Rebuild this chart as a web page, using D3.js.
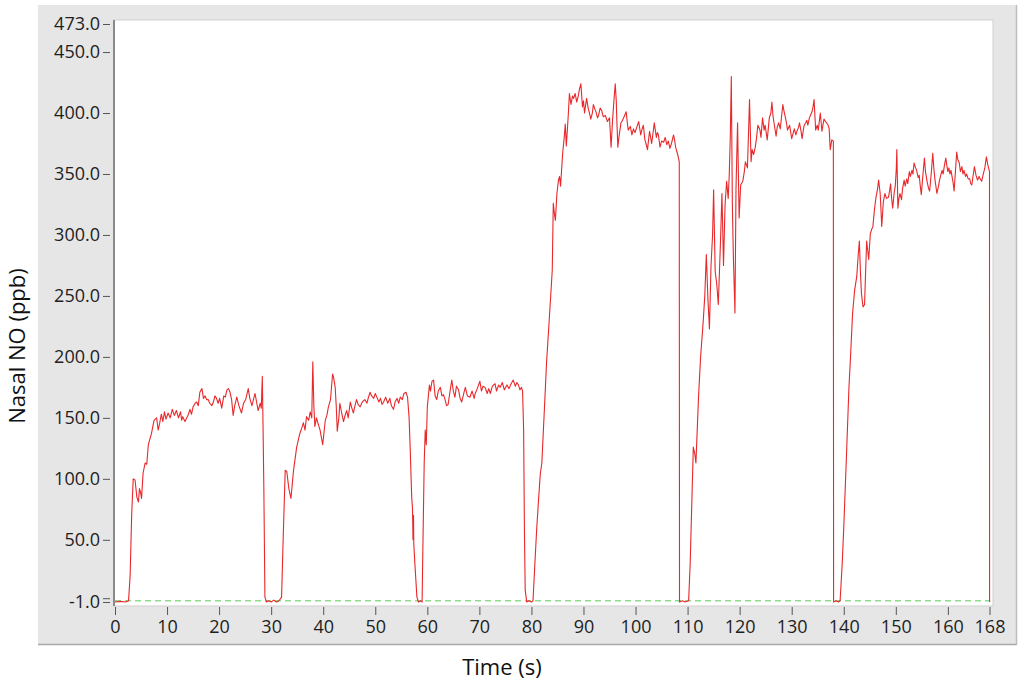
<!DOCTYPE html>
<html><head><meta charset="utf-8">
<script src="https://cdn.jsdelivr.net/npm/d3@7"></script>
<style>body{margin:0;background:#fff}svg{display:block}text{font-family:"Open Sans","Noto Sans",sans-serif}</style>
</head><body><svg id="c" width="1024" height="686"></svg>
<script>
// ---- data: [time (s), nasal NO (ppb)] ----
const phase1 = [[0,-1],[1,-0.5],[2,-1],[2.6,0],[2.9,20],[3.2,70],[3.5,100],[3.85,99],[4.2,85],[4.5,81],[4.7,92],[4.9,89],[5.1,84],[5.4,105],[5.8,113],[6.1,112],[6.4,128],[7.0,137],[7.5,148],[8.0,150],[8.3,140],[8.6,146],[8.9,153],[9.2,147],[9.5,155],[9.8,149],[10.2,154],[10.6,150],[11.0,157],[11.4,152],[11.8,156],[12.2,150],[12.6,155],[12.8,148],[13.0,151],[13.45,147],[13.8,150],[14.1,153],[14.4,157],[14.7,153],[15.0,159],[15.4,162],[15.7,163],[16.0,160],[16.3,171],[16.7,174],[17.0,166],[17.3,168],[17.6,165],[17.9,165],[18.2,162],[18.6,160],[18.9,163],[19.2,168],[19.5,166],[19.8,162],[20.1,166],[20.5,158],[20.9,168],[21.2,167],[21.5,173],[21.8,174],[22.1,171],[22.4,165],[22.7,152],[23.0,160],[23.4,167],[23.8,160],[24.3,154],[24.7,162],[25.1,165],[25.6,174],[25.9,166],[26.3,160],[26.6,165],[26.9,170],[27.2,163],[27.5,156],[27.9,162],[28.1,158],[28.3,184],[28.45,140],[28.6,90],[28.8,3],[29.1,-1]];
const phase2 = [[29.5,0],[30,-1],[30.5,0.5],[31,-1],[31.5,0],[32.0,3],[32.3,50],[32.7,107],[33.0,106],[33.4,92],[33.8,84],[34.3,107],[34.9,126],[35.5,137],[35.9,142],[36.2,146],[36.5,140],[36.8,151],[37.2,148],[37.5,155],[37.8,150],[38.0,196],[38.2,160],[38.4,143],[38.7,150],[39.1,144],[39.4,140],[39.6,135],[39.9,128],[40.2,140],[40.4,148],[40.7,152],[41.0,159],[41.4,165],[41.8,186],[42.0,183],[42.3,175],[42.5,160],[42.7,139],[43.0,150],[43.2,162],[43.5,155],[43.9,147],[44.2,152],[44.5,156],[44.8,150],[45.2,163],[45.5,158],[45.8,154],[46.1,160],[46.4,165],[46.7,161],[47.1,159],[47.5,163],[48.0,165],[48.4,162],[48.7,167],[49.0,171],[49.3,168],[49.7,166],[50.0,170],[50.3,167],[50.7,163],[51.0,166],[51.3,161],[51.6,163],[52.0,167],[52.4,162],[52.8,166],[53.1,160],[53.5,157],[53.8,163],[54.2,166],[54.5,162],[54.8,167],[55.2,165],[55.5,170],[55.9,171],[56.2,167],[56.5,150],[56.7,126],[57.0,85],[57.15,76],[57.25,50],[57.35,70],[57.4,47],[57.6,31],[58.0,3]];
const phase3 = [[58.3,-1],[58.7,0],[59.0,-1],[59.1,31],[59.4,113],[59.6,140],[59.8,128],[60.0,159],[60.4,177],[60.6,172],[60.9,180],[61.2,181],[61.5,168],[61.8,165],[62.1,172],[62.5,175],[62.8,168],[63.1,169],[63.4,165],[63.7,160],[64.0,161],[64.3,170],[64.7,181],[65.0,172],[65.3,167],[65.6,176],[66.0,173],[66.3,166],[66.6,163],[67.0,170],[67.3,175],[67.7,168],[68.2,167],[68.6,172],[69.0,166],[69.2,170],[69.6,174],[70.1,180],[70.4,172],[70.7,176],[71.1,175],[71.5,170],[71.8,174],[72.1,170],[72.5,176],[73.0,178],[73.3,172],[73.7,177],[74.0,175],[74.4,179],[74.8,173],[75.3,177],[75.7,174],[76.1,178],[76.5,181],[76.9,176],[77.2,179],[77.5,177],[77.8,173],[78.1,175],[78.3,172],[78.5,140],[78.65,60],[78.8,9],[79.1,-1]];
const phase4 = [[79.5,0],[80,-1],[80.3,0],[80.6,25],[81.0,58],[81.4,85],[81.7,104],[82.0,113],[82.3,140],[82.6,167],[82.9,195],[83.3,222],[83.7,250],[84.0,271],[84.2,326],[84.4,318],[84.6,312],[84.9,334],[85.2,345],[85.4,348],[85.6,340],[86.0,367],[86.3,380],[86.5,391],[86.7,373],[86.9,386],[87.1,400],[87.3,416],[87.6,407],[87.9,414],[88.1,412],[88.4,416],[88.7,409],[89.0,414],[89.2,419],[89.5,424],[89.8,405],[90.0,410],[90.2,400],[90.4,406],[90.6,412],[90.9,404],[91.1,401],[91.4,395],[91.7,400],[91.9,407],[92.2,403],[92.4,401],[92.7,396],[92.9,398],[93.2,404],[93.5,402],[93.8,397],[94.2,398],[94.6,393],[95.0,396],[95.3,372],[95.6,395],[95.85,410],[96.1,424],[96.3,410],[96.4,395],[96.6,372],[96.8,380],[97.0,386],[97.2,392],[97.5,394],[97.8,397],[98.2,401],[98.4,393],[98.6,386],[99.0,389],[99.3,382],[99.6,387],[99.9,384],[100.3,389],[100.6,393],[101.0,382],[101.2,386],[101.5,390],[101.8,378],[102.0,375],[102.3,370],[102.5,378],[102.7,385],[102.9,380],[103.1,375],[103.4,385],[103.6,392],[103.8,386],[104.0,380],[104.2,384],[104.4,382],[104.7,372],[105.0,377],[105.4,376],[105.7,380],[106.0,374],[106.3,377],[106.6,371],[106.9,375],[107.3,382],[107.5,378],[107.7,372],[108.1,366],[108.4,360],[108.45,-1]];
const phase5 = [[109,0],[109.5,-1],[110.2,0],[110.5,31],[111.1,126],[111.4,120],[111.6,113],[112.1,167],[112.5,200],[113.0,229],[113.3,250],[113.6,284],[113.9,248],[114.2,223],[114.5,275],[114.8,300],[115.0,337],[115.3,270],[115.6,260],[115.9,243],[116.3,292],[116.6,334],[116.9,275],[117.2,325],[117.5,344],[117.8,330],[118.0,349],[118.2,380],[118.4,430],[118.6,325],[118.8,281],[119.1,236],[119.3,338],[119.6,392],[119.9,314],[120.2,341],[120.6,344],[120.9,352],[121.1,360],[121.5,355],[121.9,411],[122.2,360],[122.4,370],[122.7,366],[123.0,372],[123.2,378],[123.5,390],[123.9,386],[124.1,380],[124.4,396],[124.7,386],[124.9,390],[125.1,384],[125.3,378],[125.7,396],[126.0,400],[126.2,409],[126.4,398],[126.6,392],[127.0,381],[127.2,388],[127.5,392],[127.8,387],[128.0,395],[128.3,407],[128.5,402],[128.7,398],[129.0,392],[129.2,386],[129.6,390],[130.0,379],[130.3,384],[130.5,387],[130.8,382],[131.0,385],[131.3,388],[131.5,392],[131.8,385],[132.0,379],[132.2,385],[132.4,390],[132.7,392],[132.9,394],[133.1,390],[133.4,396],[133.7,399],[133.9,401],[134.1,405],[134.3,411],[134.6,386],[134.9,390],[135.1,386],[135.3,393],[135.5,400],[135.8,385],[136.0,390],[136.2,395],[136.5,393],[136.7,392],[137.0,390],[137.2,387],[137.4,370],[137.7,378],[138.0,377],[138.05,-1]];
const phase6 = [[138.5,0],[139.0,-1],[139.3,0],[139.7,30],[140.0,60],[140.4,105],[140.7,140],[141.0,175],[141.3,200],[141.7,236],[142.1,255],[142.5,266],[142.8,285],[143.0,295],[143.2,270],[143.4,252],[143.7,241],[144.0,243],[144.2,270],[144.4,295],[144.8,280],[145.1,301],[145.4,305],[145.6,307],[145.9,321],[146.2,331],[146.5,338],[146.7,345],[147.0,334],[147.3,307],[147.6,327],[147.9,334],[148.2,330],[148.6,331],[148.8,336],[149.0,342],[149.2,330],[149.4,322],[149.7,335],[149.9,340],[150.1,355],[150.2,370],[150.4,322],[150.6,330],[150.8,334],[151.1,329],[151.3,338],[151.6,345],[151.8,340],[152.1,346],[152.3,342],[152.6,352],[152.8,348],[153.1,353],[153.3,350],[153.5,359],[153.8,355],[154.0,353],[154.3,347],[154.5,349],[154.7,340],[154.9,333],[155.2,349],[155.5,363],[155.7,352],[156.0,344],[156.3,338],[156.5,336],[156.8,350],[157.1,367],[157.3,355],[157.5,346],[157.7,340],[157.9,334],[158.2,340],[158.4,345],[158.7,350],[158.9,353],[159.1,350],[159.3,356],[159.6,363],[159.8,357],[160.0,352],[160.2,355],[160.4,350],[160.6,353],[160.8,348],[161.0,343],[161.2,336],[161.5,355],[161.7,368],[161.9,362],[162.2,359],[162.4,352],[162.7,356],[162.9,350],[163.1,353],[163.4,348],[163.6,350],[163.9,346],[164.2,346],[164.4,342],[164.6,341],[164.9,350],[165.1,356],[165.4,349],[165.7,345],[166.0,348],[166.2,346],[166.5,344],[166.7,348],[167.1,355],[167.4,364],[167.7,357],[168.0,352],[168.02,-1]];

const xTicks = [0,10,20,30,40,50,60,70,80,90,100,110,120,130,140,150,160,168];
const yTicks = [-1,50,100,150,200,250,300,350,400,450,473];
const xDomain = [0,168];
const yDomain = [-1,473];
const baselineLevel = 0;
const xTitle = "Time (s)";
const yTitle = "Nasal NO (ppb)";

// ---- drawing ----
const svg = d3.select("#c");
const W = 1024, H = 686;
const panel = {x0:38, y0:5, x1:1017, y1:645};
const plot = {x0:114, y0:20, x1:993, y1:606};

const x = d3.scaleLinear().domain(xDomain).range([115, 989.5]);
const y = d3.scaleLinear().domain(yDomain).range([602, 24]);

svg.append("rect").attr("width",W).attr("height",H).attr("fill","#fff");
// gray panel
svg.append("rect").attr("x",panel.x0).attr("y",panel.y0)
  .attr("width",panel.x1-panel.x0).attr("height",panel.y1-panel.y0)
  .attr("fill","#e6e6e6");
svg.append("line").attr("x1",panel.x0).attr("x2",panel.x1).attr("y1",panel.y1-0.5).attr("y2",panel.y1-0.5)
  .attr("stroke","#a8a8a8").attr("stroke-width",1.5);
svg.append("line").attr("x1",panel.x1-0.5).attr("x2",panel.x1-0.5).attr("y1",panel.y0).attr("y2",panel.y1)
  .attr("stroke","#bdbdbd").attr("stroke-width",1.5);

// plot area
svg.append("rect").attr("x",plot.x0).attr("y",plot.y0)
  .attr("width",plot.x1-plot.x0).attr("height",plot.y1-plot.y0)
  .attr("fill","#fff").attr("stroke","#cfcfcf").attr("stroke-width",1);
svg.append("line").attr("x1",plot.x0).attr("x2",plot.x0).attr("y1",plot.y0).attr("y2",plot.y1)
  .attr("stroke","#8a8a8a").attr("stroke-width",2);

// y axis
const fmt1 = d3.format(".1f");
const yAxis = d3.axisLeft(y).tickValues(yTicks).tickFormat(d => fmt1(d).replace("\u2212","-")).tickSize(7).tickPadding(3);
const gy = svg.append("g").attr("transform",`translate(${plot.x0-4},0)`).call(yAxis);
gy.select(".domain").remove();
gy.selectAll(".tick line").attr("stroke","#555");
gy.selectAll(".tick text").attr("font-size",18).attr("fill","#1e1e1e");
// second short tick mark next to the -1.0 tick
gy.append("line").attr("x1",-7).attr("x2",0).attr("y1",y(1.7)).attr("y2",y(1.7)).attr("stroke","#555");

// x axis
const xAxis = d3.axisBottom(x).tickValues(xTicks).tickFormat(d3.format("d")).tickSize(8).tickPadding(5);
const gx = svg.append("g").attr("transform",`translate(0,${plot.y1+1})`).call(xAxis);
gx.select(".domain").remove();
gx.selectAll(".tick line").attr("stroke","#555");
gx.selectAll(".tick text").attr("font-size",18).attr("fill","#1e1e1e");

// baseline reference (green dashed)
svg.append("line").attr("x1",x(xDomain[0])).attr("x2",x(xDomain[1]))
  .attr("y1",y(baselineLevel)).attr("y2",y(baselineLevel))
  .attr("stroke","#8fdc8f").attr("stroke-width",1.5).attr("stroke-dasharray","6,4");

// series
const series = [].concat(phase1,phase2,phase3,phase4,phase5,phase6);
const line = d3.line().x(d=>x(d[0])).y(d=>y(d[1]));
svg.append("path").datum(series).attr("d",line)
  .attr("fill","none").attr("stroke","#e8282b").attr("stroke-width",1.1).attr("stroke-linejoin","round");

// titles
svg.append("text").attr("x",502).attr("y",675).attr("text-anchor","middle")
  .attr("font-size",22).attr("fill","#111").text(xTitle);
svg.append("text").attr("transform",`translate(25,346) rotate(-90)`).attr("text-anchor","middle")
  .attr("font-size",22).attr("fill","#111").text(yTitle);
</script>
</body></html>
